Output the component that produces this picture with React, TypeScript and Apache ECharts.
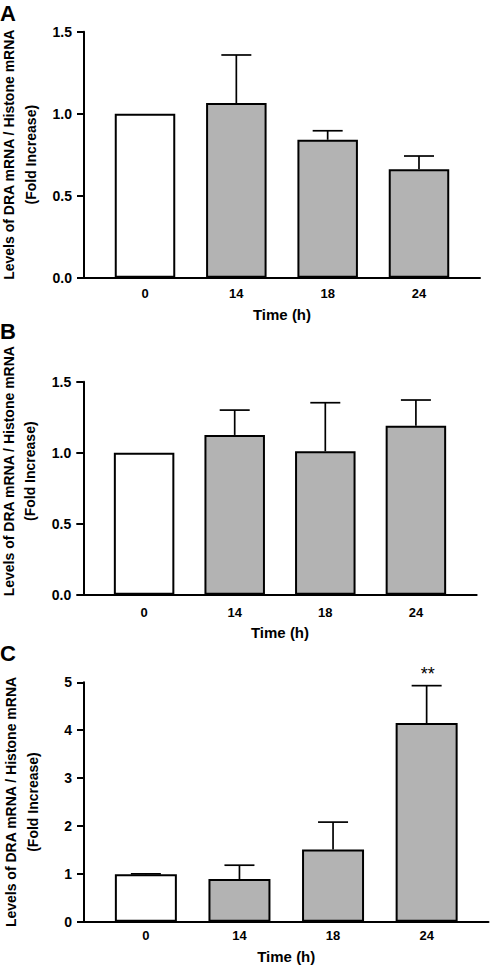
import React, { useEffect, useRef } from "react";
import * as echarts from "echarts";

// ---------- data ----------
const timeLabels = ["0", "14", "18", "24"];
const yTitle = "Levels of DRA mRNA / Histone mRNA\n(Fold Increase)";
const xTitle = "Time (h)";
const panelLetters = ["A", "B", "C"];

const meanA = [1.0, 1.065, 0.841, 0.661];
const semA = [0, 0.293, 0.055, 0.081];
const sigA = ["", "", "", ""];

const meanB = [1.0, 1.125, 1.01, 1.19];
const semB = [0, 0.175, 0.342, 0.181];
const sigB = ["", "", "", ""];

const meanC = [0.99, 0.89, 1.51, 4.15];
const semC = [0.01, 0.29, 0.57, 0.78];
const sigC = ["", "", "", "**"];

const yMaxAB = 1.5;
const yStepAB = 0.5;
const yMaxC = 5;
const yStepC = 1;

// ---------- styles / layout ----------
const FONT = "Arial, 'Liberation Sans', Helvetica, sans-serif";
const CONTROL_FILL = "#ffffff";
const TREATED_FILL = "#b3b3b3";

const panels = [
  {
    mean: meanA, sem: semA, sig: sigA, yMax: yMaxAB, yStep: yStepAB, decimals: 1,
    grid: { left: 84, top: 31.7, width: 396, height: 246 },
    pad: 0.668, barWidth: 60.5, xLabelMargin: 9, xNameGap: 29, yNamePad: [0, 0, 0, 0],
    letterTop: 2,
  },
  {
    mean: meanB, sem: semB, sig: sigB, yMax: yMaxAB, yStep: yStepAB, decimals: 1,
    grid: { left: 83.3, top: 381.7, width: 393.4, height: 213 },
    pad: 0.671, barWidth: 60.5, xLabelMargin: 11, xNameGap: 30.5, yNamePad: [0, 0, 0, 34],
    letterTop: 320,
  },
  {
    mean: meanC, sem: semC, sig: sigC, yMax: yMaxC, yStep: yStepC, decimals: 0,
    grid: { left: 84, top: 682.3, width: 404.5, height: 239.4 },
    pad: 0.661, barWidth: 62, xLabelMargin: 7, xNameGap: 27, yNamePad: [0, 0, 0, 0],
    letterTop: 642,
  },
];

function buildOption() {
  const grid: any[] = [];
  const xAxis: any[] = [];
  const yAxis: any[] = [];
  const series: any[] = [];
  const title: any[] = [];

  panels.forEach((p, i) => {
    grid.push({ ...p.grid, containLabel: false, outerBoundsMode: "none" });
    title.push({
      text: panelLetters[i],
      left: 0,
      top: p.letterTop,
      padding: 0,
      textStyle: { fontFamily: FONT, fontSize: 22, fontWeight: "bold", color: "#000" },
    });
    xAxis.push({
      type: "value",
      gridIndex: i,
      min: -p.pad,
      max: timeLabels.length - 1 + p.pad,
      splitLine: { show: false },
      axisTick: { show: false },
      axisLine: { show: true, onZero: false, lineStyle: { color: "#000", width: 2 } },
      axisLabel: {
        customValues: timeLabels.map((_, j) => j),
        formatter: (v: number) => timeLabels[Math.round(v)] ?? "",
        margin: p.xLabelMargin,
        color: "#000",
        fontFamily: FONT,
        fontSize: 13,
        fontWeight: "bold",
      },
      name: xTitle,
      nameLocation: "middle",
      nameGap: p.xNameGap,
      nameTextStyle: { fontFamily: FONT, fontSize: 15, fontWeight: "bold", color: "#000" },
    });
    yAxis.push({
      type: "value",
      gridIndex: i,
      min: 0,
      max: p.yMax,
      interval: p.yStep,
      splitLine: { show: false },
      axisLine: { show: true, onZero: false, lineStyle: { color: "#000", width: 2 } },
      axisTick: { show: true, length: 7, inside: false, lineStyle: { color: "#000", width: 2 } },
      axisLabel: {
        formatter: (v: number) => v.toFixed(p.decimals),
        margin: 12,
        color: "#000",
        fontFamily: FONT,
        fontSize: 14,
        fontWeight: "bold",
      },
      name: yTitle,
      nameLocation: "middle",
      nameRotate: 90,
      nameGap: 40.5,
      nameTextStyle: {
        fontFamily: FONT,
        fontSize: 14,
        fontWeight: "bold",
        color: "#000",
        lineHeight: 21.5,
        align: "center",
        padding: p.yNamePad,
      },
    });
    series.push({
      type: "bar",
      xAxisIndex: i,
      yAxisIndex: i,
      barWidth: p.barWidth,
      silent: true,
      itemStyle: { borderColor: "#000", borderWidth: 2 },
      data: p.mean.map((v, j) => ({
        value: [j, v],
        itemStyle: { color: j === 0 ? CONTROL_FILL : TREATED_FILL },
      })),
    });
    series.push({
      type: "custom",
      xAxisIndex: i,
      yAxisIndex: i,
      silent: true,
      z: 3,
      data: p.mean.map((v, j) => [j, v, p.sem[j]]),
      renderItem: (params: any, api: any) => {
        const x = api.value(0);
        const m = api.value(1);
        const s = api.value(2);
        const base = api.coord([x, m]);
        const top = api.coord([x, m + s]);
        const half = 15;
        const children: any[] = [];
        if (s > 0) {
          children.push({
            type: "line",
            shape: { x1: base[0], y1: base[1], x2: top[0], y2: top[1] },
            style: { stroke: "#000", lineWidth: 1.7 },
          });
          children.push({
            type: "line",
            shape: { x1: top[0] - half, y1: top[1], x2: top[0] + half, y2: top[1] },
            style: { stroke: "#000", lineWidth: 1.7 },
          });
        }
        const sg = p.sig[params.dataIndex];
        if (sg) {
          children.push({
            type: "text",
            x: top[0] + 1,
            y: top[1] - 12,
            style: {
              text: sg,
              fill: "#000",
              fontFamily: FONT,
              fontSize: 18,
              fontWeight: "normal",
              align: "center",
              verticalAlign: "middle",
            },
          });
        }
        return { type: "group", children };
      },
    });
  });

  return { animation: false, backgroundColor: "#ffffff", title, grid, xAxis, yAxis, series };
}

export default function App() {
  const ref = useRef<HTMLDivElement>(null);
  useEffect(() => {
    if (!ref.current) return;
    const chart = echarts.init(ref.current, undefined, { renderer: "svg" });
    chart.setOption(buildOption() as any);
    return () => chart.dispose();
  }, []);
  return (
    <div
      ref={ref}
      style={{ position: "absolute", left: 0, top: 0, width: 490, height: 966, background: "#fff" }}
    />
  );
}
